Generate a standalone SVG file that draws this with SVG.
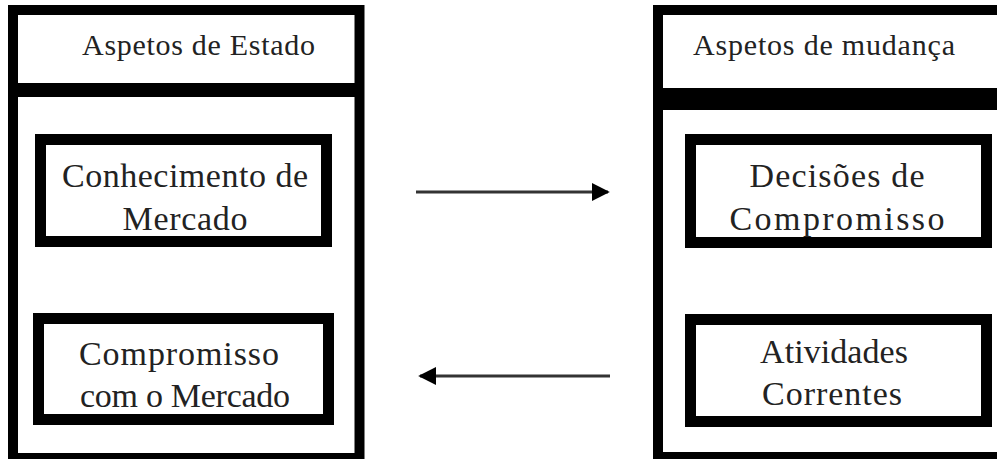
<svg xmlns="http://www.w3.org/2000/svg" width="997" height="459" viewBox="0 0 997 459">
<style>
.frame{fill:none;stroke:#000;stroke-width:10}
.inner{fill:#fff;stroke:#000;stroke-width:11}
.div{stroke:#000}
.hdr{font-family:"Liberation Serif",serif;font-size:30px;fill:#222}
.lbl{font-family:"Liberation Serif",serif;font-size:34px;fill:#222;text-anchor:middle}
.conn{stroke:#333;stroke-width:3;fill:none}
</style>
<defs>
<marker id="ah" viewBox="0 0 10 10" refX="9" refY="5" markerWidth="6" markerHeight="6" orient="auto" markerUnits="strokeWidth">
<path d="M0,0 L10,5 L0,10 Z" fill="#000"/>
</marker>
</defs>
<rect width="997" height="459" fill="#fff"/>
<g id="estado">
<rect class="frame" x="13" y="10" width="346.5" height="448"/>
<line class="div" x1="13" y1="90" x2="359.5" y2="90" stroke-width="14"/>
<text class="hdr" x="82" y="55" textLength="233" lengthAdjust="spacing">Aspetos de Estado</text>
</g>
<g id="conhecimento">
<rect class="inner" x="40.5" y="139.5" width="286" height="102"/>
<text class="lbl" x="185" y="187" textLength="246" lengthAdjust="spacing">Conhecimento de</text>
<text class="lbl" x="185" y="230" textLength="125" lengthAdjust="spacing">Mercado</text>
</g>
<g id="compromisso-mercado">
<rect class="inner" x="38.5" y="318.5" width="290" height="101"/>
<text class="lbl" x="179" y="365" textLength="200" lengthAdjust="spacing">Compromisso</text>
<text class="lbl" x="185" y="407" textLength="210" lengthAdjust="spacing">com o Mercado</text>
</g>
<g id="mudanca">
<rect class="frame" x="658" y="10" width="360" height="447"/>
<line class="div" x1="658" y1="99" x2="1010" y2="99" stroke-width="22"/>
<text class="hdr" x="693" y="55" textLength="262" lengthAdjust="spacing">Aspetos de mudança</text>
</g>
<g id="decisoes">
<rect class="inner" x="690.5" y="139.5" width="296" height="103"/>
<text class="lbl" x="837" y="187" textLength="175" lengthAdjust="spacing">Decisões de</text>
<text class="lbl" x="837" y="230" textLength="215" lengthAdjust="spacing">Compromisso</text>
</g>
<g id="atividades">
<rect class="inner" x="690.5" y="319.5" width="296" height="102"/>
<text class="lbl" x="834" y="363" textLength="148" lengthAdjust="spacing">Atividades</text>
<text class="lbl" x="832" y="405" textLength="140" lengthAdjust="spacing">Correntes</text>
</g>
<g id="connectors">
<line class="conn" x1="416" y1="192" x2="608" y2="192" marker-end="url(#ah)"/>
<line class="conn" x1="610" y1="376" x2="420" y2="376" marker-end="url(#ah)"/>
</g>
</svg>
